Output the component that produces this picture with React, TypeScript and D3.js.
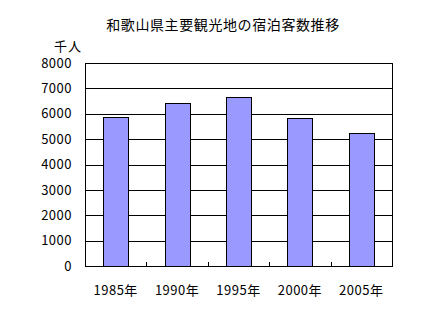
import React, { useEffect, useRef } from 'react';
import * as d3 from 'd3';

const title = '和歌山県主要観光地の宿泊客数推移';
const unitLabel = '千人';
const years = ['1985年', '1990年', '1995年', '2000年', '2005年'];
const guests = [5860, 6410, 6670, 5820, 5230];
const yTicks = [0, 1000, 2000, 3000, 4000, 5000, 6000, 7000, 8000];

const App = () => {
  const svgRef = useRef<SVGSVGElement>(null);

  useEffect(() => {
    const width = 432;
    const height = 317;
    const margin = { top: 63, right: 40, bottom: 51, left: 85 };
    const innerW = width - margin.left - margin.right;
    const innerH = height - margin.top - margin.bottom;
    const font = '"Noto Sans CJK JP", "Noto Sans", sans-serif';

    const svg = d3.select(svgRef.current);
    svg.selectAll('*').remove();
    svg.append('rect').attr('width', width).attr('height', height).attr('fill', '#fff');

    // title and unit
    svg.append('text')
      .attr('x', 223)
      .attr('y', 30)
      .attr('text-anchor', 'middle')
      .style('font-family', font)
      .style('font-size', '14px')
      .style('letter-spacing', '0.6px')
      .text(title);

    svg.append('text')
      .attr('x', 54)
      .attr('y', 51)
      .style('font-family', font)
      .style('font-size', '13px')
      .style('letter-spacing', '1px')
      .text(unitLabel);

    const g = svg.append('g').attr('transform', `translate(${margin.left},${margin.top})`);

    const x = d3.scaleBand().domain(years).range([0, innerW]).paddingInner(0).paddingOuter(0);
    const y = d3.scaleLinear().domain([0, 8000]).range([innerH, 0]);

    // gridlines
    g.selectAll('.grid')
      .data(yTicks)
      .enter().append('line')
      .attr('x1', 0)
      .attr('x2', innerW)
      .attr('y1', d => Math.round(y(d)) + 0.5)
      .attr('y2', d => Math.round(y(d)) + 0.5)
      .attr('stroke', '#000')
      .attr('stroke-width', 1);

    // y labels
    g.selectAll('.ylab')
      .data(yTicks)
      .enter().append('text')
      .attr('x', -13)
      .attr('y', d => y(d))
      .attr('dy', '0.36em')
      .attr('text-anchor', 'end')
      .style('font-family', font)
      .style('font-size', '13px')
      .style('letter-spacing', '0.5px')
      .text(d => String(d));

    // bars
    const barW = x.bandwidth() * 0.41;
    g.selectAll('.bar')
      .data(years)
      .enter().append('rect')
      .attr('x', d => Math.round(x(d)! + (x.bandwidth() - barW) / 2) + 0.5)
      .attr('y', (d, i) => Math.round(y(guests[i])) + 0.5)
      .attr('width', Math.round(barW))
      .attr('height', (d, i) => Math.round(innerH - y(guests[i])))
      .attr('fill', '#9999FF')
      .attr('stroke', '#000')
      .attr('stroke-width', 1);

    // category tick marks (inside, bottom)
    g.selectAll('.tick')
      .data(years.slice(1))
      .enter().append('line')
      .attr('x1', d => Math.round(x(d)!) + 0.5)
      .attr('x2', d => Math.round(x(d)!) + 0.5)
      .attr('y1', innerH)
      .attr('y2', innerH - 4)
      .attr('stroke', '#000');

    // plot border
    g.append('rect')
      .attr('x', 0.5)
      .attr('y', 0.5)
      .attr('width', innerW)
      .attr('height', innerH)
      .attr('fill', 'none')
      .attr('stroke', '#000');

    // x labels
    g.selectAll('.xlab')
      .data(years)
      .enter().append('text')
      .attr('x', d => x(d)! + x.bandwidth() / 2)
      .attr('y', innerH + 29)
      .attr('text-anchor', 'middle')
      .style('font-family', font)
      .style('font-size', '13px')
      .style('letter-spacing', '0.5px')
      .text(d => d);
  }, []);

  return (
    <svg ref={svgRef} width={432} height={317} style={{ position: 'absolute', left: 0, top: 0 }} />
  );
};

export default App;
